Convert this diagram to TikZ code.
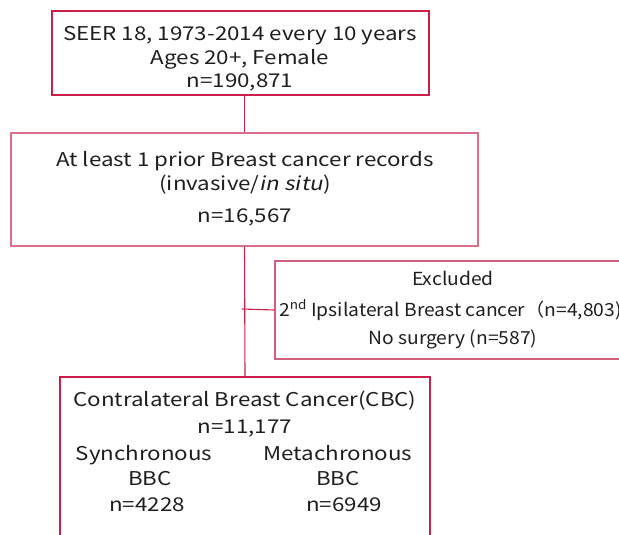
\documentclass[tikz,border=0pt]{standalone}
\usepackage{fontspec}
\setmainfont{Noto Sans CJK JP}[AutoFakeSlant=0.2,FakeStretch=1.175]
\newfontfamily\exfont{Noto Sans CJK JP}[FakeStretch=1.07]
\definecolor{crim}{HTML}{C8204A}
\definecolor{pinkb}{HTML}{D8708C}
\definecolor{pinkc}{HTML}{D06080}
\definecolor{txt}{HTML}{1E1E1E}
\begin{document}
\begin{tikzpicture}[x=1pt,y=-1pt,
  box/.style={draw,line width=1.1pt,inner sep=0pt,minimum width=#1},
  lbl/.style={anchor=base,inner sep=0pt,text=txt,font=\fontsize{19}{22}\selectfont},
  slbl/.style={lbl,font=\exfont\fontsize{18}{21}\selectfont},
  conn/.style={draw=crim,line width=1.1pt}]
\useasboundingbox (0,0) rectangle (619,535);
\clip (0,0) rectangle (619,535);
% boxes
\node[box=377pt,draw=crim,minimum height=84pt] (b1) at (240.5,53) {};
\node[box=467pt,draw=pinkb,minimum height=113pt] (b2) at (244.5,189.5) {};
\node[box=370pt,draw=pinkc,minimum height=98pt] (ex) at (460,310) {};
\node[box=370pt,draw=crim,minimum height=183pt] (b3) at (245,468.5) {};
% connectors
\draw[conn] (b2.north |- b1.south) -- (b2.north);
\draw[conn] (b2.south) -- (b3.north);
\coordinate (br) at (242,309);
\draw[conn] (br) -- (ex.west);
% texts
\node[lbl] (t1a) at (240,41) {SEER 18, 1973-2014 every 10 years};
\node[lbl] (t1b) at (240,64.5) {Ages 20+, Female};
\node[lbl] (t1c) at (240,88) {n=190,871};
\node[lbl] (t2a) at (245,166.5) {At least 1 prior Breast cancer records};
\node[lbl] (t2b) at (245,190) {(invasive/\textit{in situ})};
\node[lbl] (t2c) at (245,222.5) {n=16,567};
\node[slbl] (e1) at (453,285.5) {Excluded};
\node[slbl,anchor=base west] (e2) at (279,316) {2\textsuperscript{nd} Ipsilateral Breast cancer（n=4,803)};
\node[slbl] (e3) at (453,344) {No surgery (n=587)};
\node[lbl] (t3a) at (245,406) {Contralateral Breast Cancer(CBC)};
\node[lbl] (t3b) at (245,433) {n=11,177};
\node[lbl] (s1) at (144,460) {Synchronous};
\node[lbl] (s2) at (150,485.5) {BBC};
\node[lbl] (s3) at (147,511.5) {n=4228};
\node[lbl] (m1) at (338,460) {Metachronous};
\node[lbl] (m2) at (338,485.5) {BBC};
\node[lbl] (m3) at (344,511.5) {n=6949};
\end{tikzpicture}
\end{document}
